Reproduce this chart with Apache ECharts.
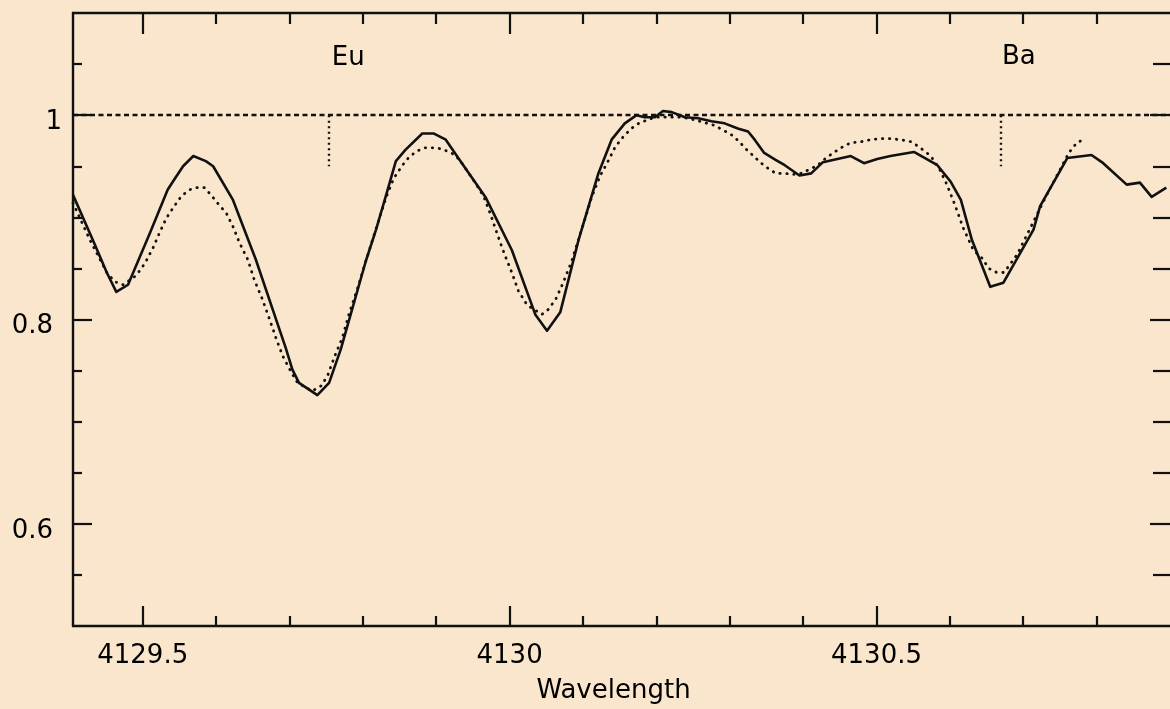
<!DOCTYPE html>
<html>
<head>
<meta charset="utf-8">
<script src="https://cdn.jsdelivr.net/npm/echarts@6/dist/echarts.min.js"></script>
<style>
html,body{margin:0;padding:0;background:#f9e6cc;}
#c{width:1170px;height:709px;}
</style>
</head>
<body>
<div id="c"></div>
<script>
// ---- data ----
const xMajorTicks = [4129.5, 4130, 4130.5];
const xMinorTicks = [4129.6, 4129.7, 4129.8, 4129.9, 4130.1, 4130.2, 4130.3, 4130.4, 4130.6, 4130.7, 4130.8];
const yMajorTicks = [0.6, 0.8, 1];
const yMinorTicks = [0.55, 0.65, 0.7, 0.75, 0.85, 0.9, 0.95, 1.05];

const observedWavelength = [4129.405,4129.435,4129.451,4129.464,4129.480,4129.510,4129.534,4129.543,4129.555,4129.569,4129.586,4129.596,4129.623,4129.654,4129.695,4129.704,4129.713,4129.738,4129.754,4129.770,4129.804,4129.818,4129.831,4129.845,4129.858,4129.881,4129.897,4129.913,4129.935,4129.967,4130.003,4130.035,4130.051,4130.069,4130.094,4130.121,4130.139,4130.157,4130.173,4130.184,4130.198,4130.209,4130.221,4130.239,4130.257,4130.275,4130.293,4130.311,4130.325,4130.334,4130.347,4130.363,4130.375,4130.395,4130.411,4130.427,4130.465,4130.483,4130.501,4130.519,4130.551,4130.583,4130.601,4130.615,4130.630,4130.655,4130.673,4130.714,4130.723,4130.760,4130.793,4130.809,4130.841,4130.859,4130.875,4130.895];
const observedFlux = [0.922,0.873,0.846,0.827,0.834,0.885,0.927,0.937,0.950,0.960,0.955,0.950,0.917,0.859,0.772,0.751,0.738,0.726,0.738,0.771,0.857,0.888,0.920,0.955,0.966,0.982,0.982,0.976,0.953,0.920,0.868,0.805,0.789,0.807,0.878,0.943,0.976,0.992,1.000,0.998,0.998,1.004,1.003,0.998,0.997,0.994,0.992,0.987,0.984,0.976,0.963,0.956,0.951,0.941,0.943,0.954,0.960,0.953,0.957,0.960,0.964,0.951,0.935,0.917,0.878,0.832,0.836,0.888,0.911,0.958,0.961,0.953,0.932,0.934,0.920,0.929];

const syntheticWavelength = [4129.405,4129.428,4129.451,4129.462,4129.473,4129.491,4129.503,4129.514,4129.523,4129.532,4129.543,4129.553,4129.564,4129.573,4129.584,4129.593,4129.602,4129.614,4129.623,4129.632,4129.643,4129.652,4129.663,4129.673,4129.682,4129.691,4129.702,4129.711,4129.731,4129.743,4129.752,4129.761,4129.772,4129.781,4129.793,4129.804,4129.822,4129.833,4129.842,4129.854,4129.863,4129.874,4129.885,4129.897,4129.908,4129.917,4129.926,4129.935,4129.953,4129.965,4129.974,4129.983,4129.993,4130.003,4130.012,4130.024,4130.044,4130.053,4130.063,4130.073,4130.084,4130.093,4130.103,4130.112,4130.123,4130.135,4130.144,4130.155,4130.166,4130.178,4130.187,4130.198,4130.209,4130.221,4130.232,4130.243,4130.259,4130.279,4130.292,4130.304,4130.313,4130.322,4130.334,4130.343,4130.354,4130.363,4130.375,4130.386,4130.397,4130.409,4130.420,4130.431,4130.443,4130.454,4130.465,4130.479,4130.492,4130.506,4130.519,4130.533,4130.547,4130.558,4130.567,4130.574,4130.586,4130.596,4130.607,4130.618,4130.632,4130.644,4130.653,4130.664,4130.674,4130.692,4130.712,4130.732,4130.749,4130.762,4130.773,4130.782];
const syntheticFlux = [0.914,0.878,0.846,0.837,0.834,0.843,0.855,0.870,0.885,0.899,0.911,0.921,0.927,0.929,0.929,0.922,0.914,0.904,0.891,0.875,0.859,0.839,0.820,0.800,0.781,0.764,0.749,0.738,0.730,0.735,0.745,0.763,0.782,0.805,0.831,0.857,0.898,0.922,0.938,0.951,0.959,0.965,0.968,0.968,0.967,0.964,0.961,0.953,0.934,0.920,0.903,0.884,0.864,0.846,0.828,0.814,0.805,0.810,0.820,0.836,0.856,0.876,0.899,0.920,0.940,0.956,0.969,0.979,0.987,0.993,0.995,0.998,0.998,0.998,0.998,0.997,0.994,0.990,0.985,0.980,0.974,0.967,0.959,0.953,0.947,0.943,0.943,0.942,0.943,0.947,0.951,0.958,0.964,0.969,0.973,0.974,0.976,0.977,0.977,0.976,0.974,0.969,0.964,0.960,0.947,0.932,0.912,0.890,0.868,0.860,0.850,0.846,0.846,0.864,0.893,0.922,0.945,0.963,0.973,0.976];

const continuumLevel = 1;
const lineNames = ['Eu', 'Ba'];
const lineCentres = [4129.754, 4130.670];
const lineMarkBottom = 0.95;
const lineLabelWavelength = [4129.78, 4130.694];
const lineLabelFlux = [1.056, 1.057];

// ---- chart ----
const ink = '#111111';
const font = 'DejaVu Sans';
const fs = 26;
const fmtX = v => String(Math.round(v * 10) / 10);
const fmtY = v => String(Math.round(v * 100) / 100);

function pairs(a, b) { return a.map((v, i) => [v, b[i]]); }

const xBase = { type: 'value', min: 4129.405, max: 4130.9, splitLine: { show: false } };
const yBase = { type: 'value', min: 0.5, max: 1.1, splitLine: { show: false } };
const tickStyle = { color: ink, width: 2.2 };

const chart = echarts.init(document.getElementById('c'));
chart.setOption({
  backgroundColor: '#f9e6cc',
  animation: false,
  grid: { left: 73, right: -3, top: 13, bottom: 82, containLabel: false },
  xAxis: [
    Object.assign({}, xBase, {
      position: 'bottom',
      axisLine: { show: true, lineStyle: { color: ink, width: 2.4 } },
      axisTick: { show: true, inside: true, length: 20, customValues: xMajorTicks, lineStyle: tickStyle },
      axisLabel: { show: true, customValues: xMajorTicks, formatter: fmtX, margin: 17, color: '#000', fontFamily: font, fontSize: fs },
      name: 'Wavelength', nameLocation: 'middle', nameGap: 52,
      nameTextStyle: { color: '#000', fontFamily: font, fontSize: fs, padding: [0, 16, 0, 0] }
    }),
    Object.assign({}, xBase, {
      position: 'bottom',
      axisLine: { show: false },
      axisTick: { show: true, inside: true, length: 10, customValues: xMinorTicks, lineStyle: tickStyle },
      axisLabel: { show: false }
    }),
    Object.assign({}, xBase, {
      position: 'top',
      axisLine: { show: true, lineStyle: { color: ink, width: 2.4 } },
      axisTick: { show: true, inside: true, length: 21, customValues: xMajorTicks, lineStyle: tickStyle },
      axisLabel: { show: false }
    }),
    Object.assign({}, xBase, {
      position: 'top',
      axisLine: { show: false },
      axisTick: { show: true, inside: true, length: 11, customValues: xMinorTicks, lineStyle: tickStyle },
      axisLabel: { show: false }
    })
  ],
  yAxis: [
    Object.assign({}, yBase, {
      position: 'left',
      axisLine: { show: true, lineStyle: { color: ink, width: 2.4 } },
      axisTick: { show: true, inside: true, length: 19, customValues: yMajorTicks, lineStyle: tickStyle },
      axisLabel: {
        show: true, customValues: yMajorTicks, margin: 11,
        formatter: v => (Math.abs(v - 1) < 1e-6 ? '{a|' + fmtY(v) + '}' : '{b|' + fmtY(v) + '}'),
        rich: {
          a: { color: '#000', fontFamily: font, fontSize: fs, padding: [14, 0, 0, 0] },
          b: { color: '#000', fontFamily: font, fontSize: fs, padding: [14, 9, 0, 0] }
        }
      }
    }),
    Object.assign({}, yBase, {
      position: 'left',
      axisLine: { show: false },
      axisTick: { show: true, inside: true, length: 9, customValues: yMinorTicks, lineStyle: tickStyle },
      axisLabel: { show: false }
    }),
    Object.assign({}, yBase, {
      position: 'right',
      axisLine: { show: false },
      axisTick: { show: true, inside: true, length: 20, customValues: yMajorTicks, lineStyle: tickStyle },
      axisLabel: { show: false }
    }),
    Object.assign({}, yBase, {
      position: 'right',
      axisLine: { show: false },
      axisTick: { show: true, inside: true, length: 17, customValues: yMinorTicks, lineStyle: tickStyle },
      axisLabel: { show: false }
    })
  ],
  series: [
    {
      name: 'observed', type: 'line', xAxisIndex: 0, yAxisIndex: 0,
      data: pairs(observedWavelength, observedFlux),
      symbol: 'none', smooth: false,
      lineStyle: { color: ink, width: 2.6, join: 'round' },
      z: 5,
      markLine: {
        silent: true, symbol: ['none', 'none'], animation: false,
        label: { show: false },
        data: [
          { yAxis: continuumLevel, lineStyle: { color: ink, width: 2.4, type: [5, 3.5] } }
        ].concat(lineCentres.map(c => [
          { coord: [c, continuumLevel], lineStyle: { color: ink, width: 2.4, type: [2, 3.5] } },
          { coord: [c, lineMarkBottom] }
        ]))
      }
    },
    {
      name: 'synthetic', type: 'line', xAxisIndex: 0, yAxisIndex: 0,
      data: pairs(syntheticWavelength, syntheticFlux),
      symbol: 'none', smooth: false,
      lineStyle: { color: ink, width: 2.8, type: [0.4, 6.6], cap: 'round' },
      z: 4
    },
    {
      name: 'labels', type: 'scatter', xAxisIndex: 0, yAxisIndex: 0,
      symbolSize: 0, silent: true,
      itemStyle: { opacity: 1 },
      data: lineNames.map((n, i) => ({ name: n, value: [lineLabelWavelength[i], lineLabelFlux[i]] })),
      label: { show: true, position: 'inside', formatter: p => p.name, color: '#000', opacity: 1, fontFamily: font, fontSize: fs }
    }
  ]
});
</script>
</body>
</html>
